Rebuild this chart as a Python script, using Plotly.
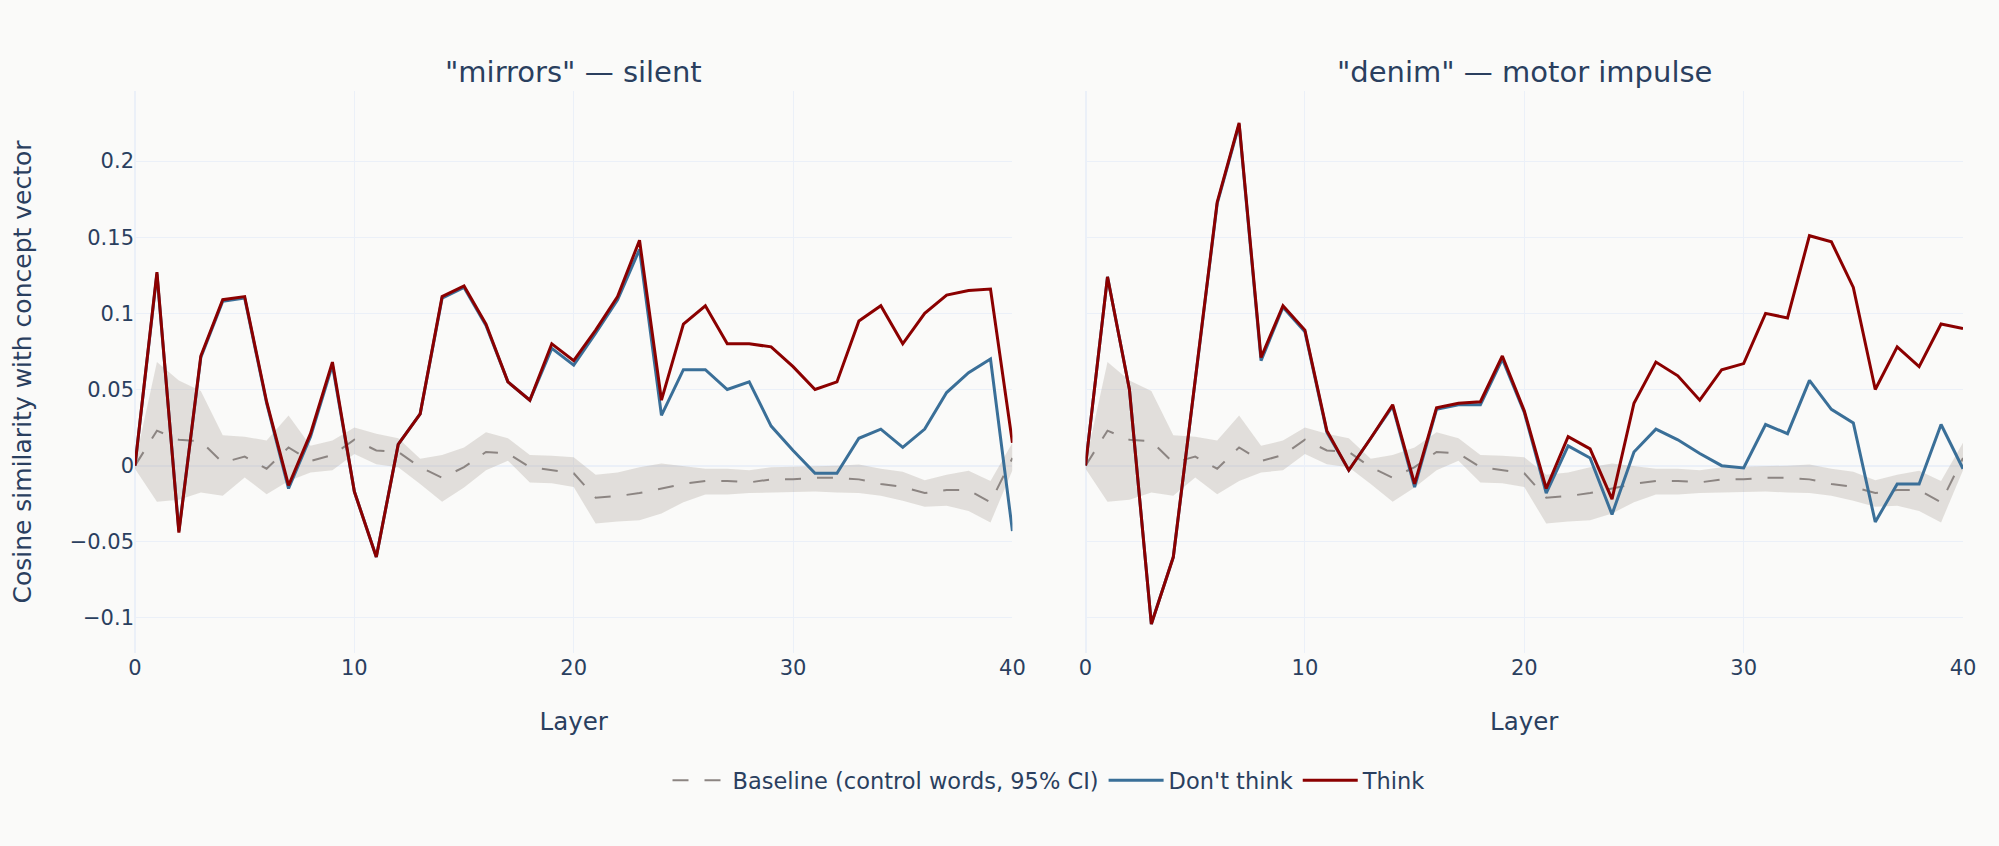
import plotly.graph_objects as go
from plotly.subplots import make_subplots

# === Data ===
layers = list(range(41))

# "mirrors" - silent
mirrors_think = [0.0, 0.127, -0.044, 0.072, 0.109, 0.111, 0.042, -0.013, 0.021, 0.068,
                 -0.017, -0.060, 0.014, 0.034, 0.111, 0.118, 0.093, 0.055, 0.043, 0.080,
                 0.069, 0.089, 0.111, 0.148, 0.043, 0.093, 0.105, 0.080, 0.080, 0.078,
                 0.065, 0.050, 0.055, 0.095, 0.105, 0.080, 0.100, 0.112, 0.115, 0.116,
                 0.015]
mirrors_dont = [0.0, 0.126, -0.043, 0.071, 0.108, 0.110, 0.041, -0.015, 0.019, 0.066,
                -0.017, -0.060, 0.014, 0.034, 0.110, 0.117, 0.092, 0.055, 0.043, 0.077,
                0.066, 0.087, 0.109, 0.142, 0.033, 0.063, 0.063, 0.050, 0.055, 0.026,
                0.010, -0.005, -0.005, 0.018, 0.024, 0.012, 0.024, 0.048, 0.061, 0.070,
                -0.043]

# "denim" - motor impulse
denim_think = [0.0, 0.124, 0.050, -0.104, -0.060, 0.057, 0.173, 0.225, 0.071, 0.105,
               0.089, 0.023, -0.003, 0.018, 0.040, -0.012, 0.038, 0.041, 0.042, 0.072,
               0.036, -0.015, 0.019, 0.011, -0.022, 0.041, 0.068, 0.059, 0.043, 0.063,
               0.067, 0.100, 0.097, 0.151, 0.147, 0.117, 0.050, 0.078, 0.065, 0.093,
               0.090]
denim_dont = [0.0, 0.124, 0.050, -0.104, -0.060, 0.056, 0.172, 0.224, 0.069, 0.104,
              0.088, 0.022, -0.003, 0.018, 0.039, -0.014, 0.037, 0.040, 0.040, 0.070,
              0.035, -0.018, 0.013, 0.005, -0.032, 0.009, 0.024, 0.017, 0.008, 0.0,
              -0.0015, 0.027, 0.021, 0.056, 0.037, 0.028, -0.037, -0.012, -0.012, 0.027,
              -0.002]

# baseline from control words (same for both panels)
base_mean = [0.0, 0.023, 0.017, 0.016, 0.002, 0.006, -0.002, 0.012, 0.003, 0.007,
             0.017, 0.010, 0.009, -0.001, -0.008, -0.001, 0.009, 0.008, -0.001, -0.003,
             -0.005, -0.021, -0.020, -0.018, -0.015, -0.012, -0.010, -0.010, -0.011, -0.009,
             -0.009, -0.008, -0.008, -0.009, -0.012, -0.014, -0.018, -0.016, -0.016, -0.024,
             0.005]
base_upper = [0.002, 0.068, 0.056, 0.049, 0.020, 0.019, 0.0165, 0.033, 0.013, 0.0165,
              0.025, 0.021, 0.018, 0.0045, 0.007, 0.012, 0.022, 0.018, 0.007, 0.0065,
              0.0055, -0.006, -0.0045, -0.001, 0.0015, 0.0, -0.002, -0.002, -0.003, -0.001,
              -0.0007, 0.0, 0.0, 0.0007, -0.002, -0.004, -0.0095, -0.006, -0.0033, -0.010,
              0.015]
base_lower = [-0.002, -0.0237, -0.0224, -0.0176, -0.0198, -0.0077, -0.0187, -0.010, -0.0045, -0.003,
              0.0077, 0.001, -0.001, -0.012, -0.0237, -0.0143, -0.003, 0.0033, -0.011, -0.0116,
              -0.014, -0.038, -0.0367, -0.0358, -0.0314, -0.024, -0.019, -0.019, -0.018, -0.0176,
              -0.017, -0.017, -0.0176, -0.018, -0.0198, -0.023, -0.027, -0.0264, -0.0297, -0.0373,
              -0.003]

panels = [
    ('"mirrors" — silent', mirrors_dont, mirrors_think),
    ('"denim" — motor impulse', denim_dont, denim_think),
]

# === Colours ===
BG = "#fafaf9"
TEXT = "#2a3f5f"
BAND = "rgba(170,160,150,0.3)"
BASE_LINE = "#8c8582"
DONT = "#3a6f98"
THINK = "#8b0000"
FONT = "Verdana, DejaVu Sans, sans-serif"

fig = make_subplots(rows=1, cols=2, shared_yaxes=True, horizontal_spacing=0.04,
                    subplot_titles=[p[0] for p in panels])

for i, (name, dont, think) in enumerate(panels):
    col = i + 1
    first = (i == 0)
    # CI band
    fig.add_trace(go.Scatter(x=layers, y=base_upper, mode="lines", line=dict(width=0),
                             showlegend=False, hoverinfo="skip"), row=1, col=col)
    fig.add_trace(go.Scatter(x=layers, y=base_lower, mode="lines", line=dict(width=0),
                             fill="tonexty", fillcolor=BAND, showlegend=False,
                             hoverinfo="skip"), row=1, col=col)
    fig.add_trace(go.Scatter(x=layers, y=base_mean, mode="lines",
                             line=dict(color=BASE_LINE, width=2, dash="16px,16px"),
                             name="Baseline (control words, 95% CI)",
                             legendgroup="base", showlegend=first), row=1, col=col)
    fig.add_trace(go.Scatter(x=layers, y=dont, mode="lines",
                             line=dict(color=DONT, width=3),
                             name="Don't think", legendgroup="dont",
                             showlegend=first), row=1, col=col)
    fig.add_trace(go.Scatter(x=layers, y=think, mode="lines",
                             line=dict(color=THINK, width=3),
                             name="Think", legendgroup="think",
                             showlegend=first), row=1, col=col)

fig.update_layout(
    template="plotly_white",
    width=1999, height=846,
    margin=dict(l=135, r=36, t=91, b=193),
    paper_bgcolor=BG, plot_bgcolor=BG,
    font=dict(family=FONT, color=TEXT, size=21),
    legend=dict(orientation="h", x=0.5, xanchor="center", y=-0.227, yanchor="middle",
                font=dict(size=22.5), itemwidth=55),
)
fig.update_annotations(font=dict(family=FONT, size=29, color=TEXT))
fig.update_xaxes(title_text="Layer", title_font=dict(size=24.5), title_standoff=33,
                 tickfont=dict(size=21), dtick=10)
fig.update_yaxes(range=[-0.123, 0.246], tickfont=dict(size=21))
fig.update_yaxes(title_text="Cosine similarity with concept vector",
                 title_font=dict(size=25), title_standoff=30, row=1, col=1)

# page without the default body margin, so the figure fills the window
fig.write_html("out.html", config={"displayModeBar": False},
               post_script="document.body.style.margin='0';"
               "document.body.style.overflow='hidden';")
